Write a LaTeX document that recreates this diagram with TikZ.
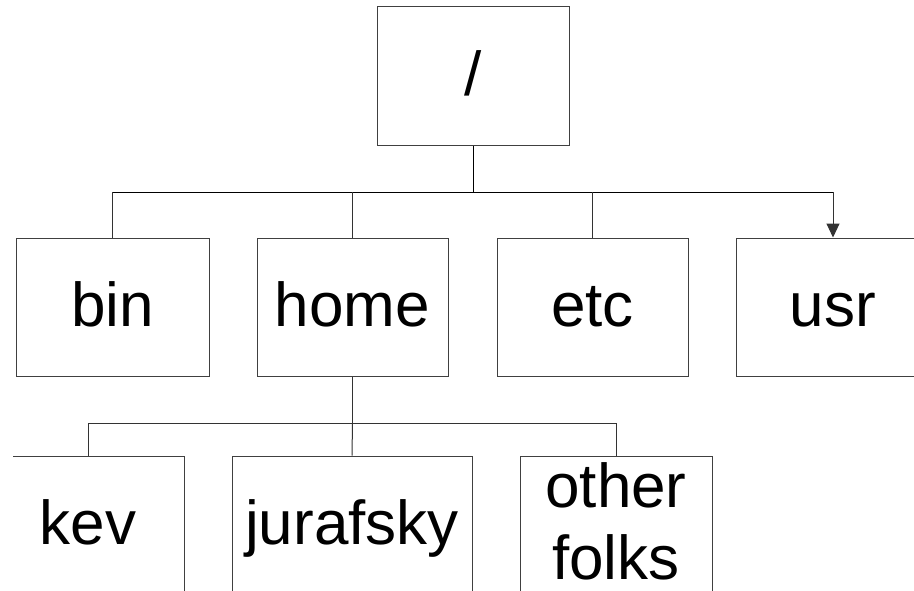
\documentclass[tikz,border=0pt]{standalone}
\usepackage{fontspec}
\setmainfont{Liberation Sans}
\usetikzlibrary{arrows.meta}
\begin{document}
\begin{tikzpicture}[x=1pt,y=-1pt,
  every node/.style={font=\fontsize{62}{72}\selectfont, inner sep=0pt},
  box/.style={draw=black!75, line width=1pt, minimum height=138pt, text height=45pt, text depth=6pt},
  lbl/.style={align=center},
  wire/.style={draw=black!80, line width=1pt},
  rootwire/.style={draw=black, line width=1pt}]
\useasboundingbox (0,0) rectangle (914,590);
\clip (0,0) rectangle (914,590);
% root
\node[box, minimum width=192pt, minimum height=139pt] (root) at (473,75.5) {/};
% first level
\node[box, minimum width=193pt] (bin)  at (112.5,307) {bin};
\node[box, minimum width=191pt] (home) at (352.5,307) {home};
\node[box, minimum width=191pt] (etc)  at (592.5,307) {etc};
\node[box, minimum width=194pt] (usr)  at (833,307) {usr};
% second level
\begin{scope}
\clip (13,0) rectangle (914,590);
\node[box, minimum width=192pt] (kev) at (88,525) {kev};
\end{scope}
\node[box, minimum width=240pt] (jur) at (352,525) {jurafsky};
\node[box, minimum width=192pt, text height=, text depth=] (other) at (616,525) {};
\node[lbl] (otherlbl) at (616,521) {other\\folks};
% buses
\coordinate (busA) at (473,192);
\coordinate (busB) at (352.5,423);
% root connectors
\draw[rootwire] (root.south) -- (busA);
\draw[rootwire] (bin.north |- busA) -- (usr.north |- busA);
\draw[wire] (bin.north |- busA) -- (bin.north);
\draw[wire] (home.north |- busA) -- (home.north);
\draw[wire] (etc.north |- busA) -- (etc.north);
\draw[wire, -{Triangle[length=14pt,width=13pt]}] (usr.north |- busA) -- (usr.north);
% home connectors
\draw[wire] (home.south) -- (busB);
\draw[wire] (kev.north |- busB) -- (other.north |- busB);
\draw[wire] (kev.north |- busB) -- (kev.north);
\draw[wire] (busB) -- (jur.north);
\draw[wire] (other.north |- busB) -- (other.north);
\end{tikzpicture}
\end{document}
